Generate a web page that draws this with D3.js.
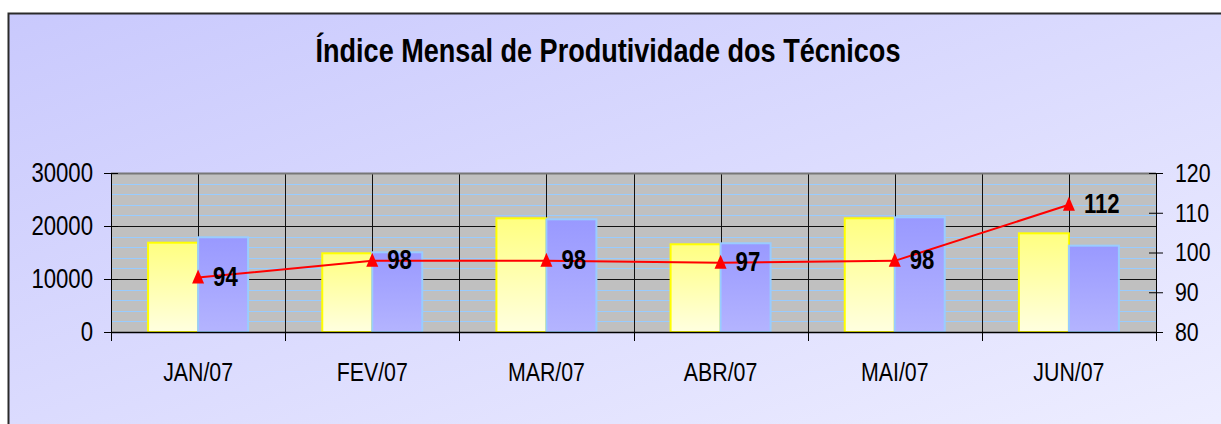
<!DOCTYPE html>
<html>
<head>
<meta charset="utf-8">
<script src="https://cdn.jsdelivr.net/npm/d3@7"></script>
<style>
  body { margin: 0; background: #fff; }
  text { font-family: 'Liberation Sans', Arial, sans-serif; }
</style>
</head>
<body>
<div id="chart"></div>
<script>
// data
const months = ['JAN/07', 'FEV/07', 'MAR/07', 'ABR/07', 'MAI/07', 'JUN/07']
const serieA = [16850, 14850, 21450, 16550, 21450, 18620]
const serieB = [17870, 15040, 21260, 16740, 21640, 16290]
const indice = [93.7, 97.9, 97.9, 97.4, 97.9, 112]
const leftTicks = [0, 10000, 20000, 30000]
const rightTicks = [80, 90, 100, 110, 120]

const W = 1221, H = 424
const plot = { left: 111, right: 1156, top: 173, bottom: 332 }
const FONT = "'Liberation Sans', Arial, sans-serif"

// no narrow font installed: squeeze glyphs like Arial Narrow
function narrow(sel, f = 0.82) {
  sel.each(function () {
    const len = this.getComputedTextLength()
    d3.select(this).attr('textLength', len * f).attr('lengthAdjust', 'spacingAndGlyphs')
  })
}

const svg = d3.select('#chart').append('svg')
  .attr('width', W).attr('height', H)

const defs = svg.append('defs')
const bg = defs.append('linearGradient').attr('id', 'bg')
  .attr('x1', 0).attr('y1', 0).attr('x2', 1).attr('y2', 1)
bg.append('stop').attr('offset', 0).attr('stop-color', '#c9c9fd')
bg.append('stop').attr('offset', 1).attr('stop-color', '#eeeeff')

const gA = defs.append('linearGradient').attr('id', 'gA')
  .attr('x1', 0).attr('y1', 0).attr('x2', 0).attr('y2', 1)
gA.append('stop').attr('offset', 0).attr('stop-color', '#ffff80')
gA.append('stop').attr('offset', 1).attr('stop-color', '#ffffe0')

const gB = defs.append('linearGradient').attr('id', 'gB')
  .attr('x1', 0).attr('y1', 0).attr('x2', 0).attr('y2', 1)
gB.append('stop').attr('offset', 0).attr('stop-color', '#9999ff')
gB.append('stop').attr('offset', 1).attr('stop-color', '#b4b4ff')

// chart area background
svg.append('rect')
  .attr('x', 8.5).attr('y', 13.5)
  .attr('width', W).attr('height', H)
  .attr('fill', 'url(#bg)')
  .attr('stroke', '#2a2a2a').attr('stroke-width', 2)

svg.append('text')
  .attr('x', 608).attr('y', 62)
  .attr('text-anchor', 'middle')
  .attr('font-size', 33).attr('font-weight', 'bold')
  .text('Índice Mensal de Produtividade dos Técnicos')
  .call(narrow)

// scales
const x = d3.scaleBand().domain(months).range([plot.left, plot.right])
const xSub = d3.scaleBand().domain(['a', 'b']).range([0, x.bandwidth()])
  .paddingInner(0).paddingOuter(0.742)
const yL = d3.scaleLinear().domain([0, 30000]).range([plot.bottom, plot.top])
const yR = d3.scaleLinear().domain([80, 120]).range([plot.bottom, plot.top])

// plot area
svg.append('rect')
  .attr('x', plot.left).attr('y', plot.top)
  .attr('width', plot.right - plot.left).attr('height', plot.bottom - plot.top)
  .attr('fill', '#c0c0c0')

// minor grid every 2000
const minor = d3.range(0, 30001, 2000).filter(v => v % 10000 !== 0)
svg.append('g').selectAll('line').data(minor).join('line')
  .attr('x1', plot.left).attr('x2', plot.right)
  .attr('y1', d => Math.round(yL(d)) + 0.5).attr('y2', d => Math.round(yL(d)) + 0.5)
  .attr('stroke', '#99ccff').attr('stroke-width', 1)

svg.append('g').selectAll('line').data([10000, 20000]).join('line')
  .attr('x1', plot.left).attr('x2', plot.right)
  .attr('y1', d => Math.round(yL(d)) + 0.5).attr('y2', d => Math.round(yL(d)) + 0.5)
  .attr('stroke', '#111').attr('stroke-width', 1)

// vertical grid at category centres and boundaries
const vgrid = months.flatMap(m => [x(m), x(m) + x.bandwidth() / 2]).slice(1)
svg.append('g').selectAll('line').data(vgrid).join('line')
  .attr('x1', d => Math.round(d) + 0.5).attr('x2', d => Math.round(d) + 0.5)
  .attr('y1', plot.top).attr('y2', plot.bottom)
  .attr('stroke', '#111').attr('stroke-width', 1)

// top border of plot
svg.append('path')
  .attr('d', `M${plot.left},${plot.top + 0.5}H${plot.right}`)
  .attr('stroke', '#777').attr('stroke-width', 2).attr('fill', 'none')

// bars
const bars = svg.append('g')
months.forEach((m, i) => {
  bars.append('rect')
    .attr('x', x(m) + xSub('a')).attr('width', xSub.bandwidth())
    .attr('y', yL(serieA[i])).attr('height', yL(0) - yL(serieA[i]))
    .attr('fill', 'url(#gA)').attr('stroke', '#ffff00').attr('stroke-width', 2)
  bars.append('rect')
    .attr('x', x(m) + xSub('b')).attr('width', xSub.bandwidth())
    .attr('y', yL(serieB[i])).attr('height', yL(0) - yL(serieB[i]))
    .attr('fill', 'url(#gB)').attr('stroke', '#99ccff').attr('stroke-width', 2)
})

// axes
const yAxisL = d3.axisLeft(yL).tickValues(leftTicks).tickSize(7).tickPadding(11).tickFormat(d3.format('d'))
svg.append('g')
  .attr('transform', `translate(${plot.left},0)`)
  .call(yAxisL)
  .call(g => g.select('.domain').remove())
  .call(g => g.selectAll('.tick line').attr('x2', -7).attr('x1', 7).attr('stroke', '#000'))
  .call(g => g.selectAll('.tick text').attr('font-size', 27).attr('fill', '#000')
    .attr('font-family', FONT).call(narrow))

const yAxisR = d3.axisRight(yR).tickValues(rightTicks).tickSize(7).tickPadding(12)
svg.append('g')
  .attr('transform', `translate(${plot.right},0)`)
  .call(yAxisR)
  .call(g => g.select('.domain').remove())
  .call(g => g.selectAll('.tick line').attr('x1', -7).attr('x2', 7).attr('stroke', '#000'))
  .call(g => g.selectAll('.tick text').attr('font-size', 26).attr('fill', '#000')
    .attr('font-family', FONT).call(narrow))

const xAxis = d3.axisBottom(x).tickSize(0).tickPadding(31)
svg.append('g')
  .attr('transform', `translate(0,${plot.bottom})`)
  .call(xAxis)
  .call(g => g.select('.domain').remove())
  .call(g => g.selectAll('.tick text').attr('font-size', 26).attr('fill', '#000')
    .attr('font-family', FONT).call(narrow))

// axis lines and category ticks
const bounds = months.map(m => x(m)).concat([plot.right])
svg.append('g').selectAll('line').data(bounds).join('line')
  .attr('x1', d => Math.round(d) + 0.5).attr('x2', d => Math.round(d) + 0.5)
  .attr('y1', (d, i) => (i === 0 || i === bounds.length - 1) ? plot.top : plot.bottom)
  .attr('y2', plot.bottom + 9)
  .attr('stroke', '#000').attr('stroke-width', 1)
svg.append('line')
  .attr('x1', plot.left).attr('x2', plot.right)
  .attr('y1', plot.bottom + 0.5).attr('y2', plot.bottom + 0.5)
  .attr('stroke', '#000').attr('stroke-width', 1.5)

// line series
const cx = m => x(m) + x.bandwidth() / 2
const line = d3.line().x((d, i) => cx(months[i])).y(d => yR(d))
svg.append('path').datum(indice)
  .attr('d', line)
  .attr('fill', 'none').attr('stroke', '#ff0000').attr('stroke-width', 2)

// tall triangle marker, 12 wide, 14 high
const triangle = {
  draw(ctx) {
    ctx.moveTo(0, -8)
    ctx.lineTo(6, 6)
    ctx.lineTo(-6, 6)
    ctx.closePath()
  }
}
svg.append('g').selectAll('path').data(indice).join('path')
  .attr('transform', (d, i) => `translate(${cx(months[i])},${yR(d)})`)
  .attr('d', d3.symbol().type(triangle))
  .attr('fill', '#ff0000')

svg.append('g').selectAll('text').data(indice).join('text')
  .attr('x', (d, i) => cx(months[i]) + 15)
  .attr('y', d => yR(d) + 8)
  .attr('font-size', 27).attr('font-weight', 'bold')
  .text(d => d3.format('.0f')(d))
  .call(narrow)
</script>
</body>
</html>
